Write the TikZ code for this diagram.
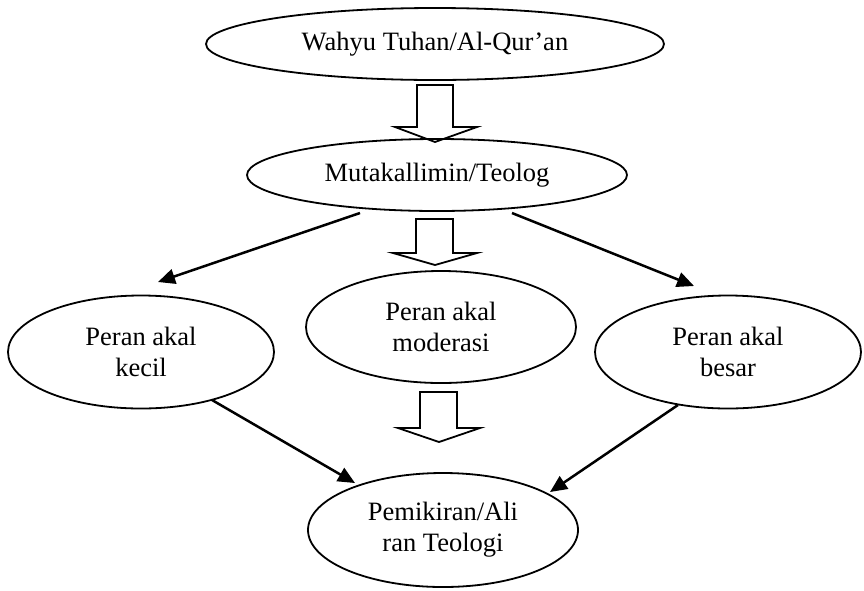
\documentclass[tikz,border=0pt]{standalone}
\usepackage{fontspec}
\setmainfont{Liberation Serif}
\usetikzlibrary{shapes.geometric,arrows.meta}
\begin{document}
\begin{tikzpicture}[x=1pt,y=-1pt,
  oval/.style={draw, ellipse, line width=1.8pt, inner sep=0pt, align=center,
    font=\fontsize{26.5}{31}\selectfont},
  conn/.style={line width=2.5pt, -{Triangle[length=17pt,width=15pt]}},
  blockarr/.style={draw, line width=1.8pt, line join=miter}]
\useasboundingbox (0,0) rectangle (864,590);

% ellipses
\node[oval, minimum width=458pt, minimum height=72pt] (wahyu) at (435,44) {Wahyu Tuhan/Al-Qur’an};
\node[oval, minimum width=380pt, minimum height=72pt] (mut) at (437,175) {Mutakallimin/Teolog};
\node[oval, minimum width=266pt, minimum height=113pt] (kecil) at (141,352) {Peran akal\\kecil};
\node[oval, minimum width=270pt, minimum height=112pt] (mod) at (441,327) {Peran akal\\moderasi};
\node[oval, minimum width=266pt, minimum height=113pt] (besar) at (728,352) {Peran akal\\besar};
\node[oval, minimum width=270pt, minimum height=114pt] (pem) at (443,530) {Pemikiran/Ali\\ran Teologi};

% block arrows
\draw[blockarr] (417,85) -- (453,85) -- (453,127) -- (477,127) -- (435,142) -- (395,127) -- (417,127) -- cycle;
\draw[blockarr] (416,219) -- (453,219) -- (453,253) -- (477,253) -- (435,265) -- (393,253) -- (416,253) -- cycle;
\draw[blockarr] (420,392) -- (457,392) -- (457,428) -- (480,428) -- (439,442) -- (398,428) -- (420,428) -- cycle;

% connector end points
\coordinate (mutL) at (360,213);
\coordinate (kecilT) at (158,282);
\coordinate (mutR) at (512,213);
\coordinate (besarT) at (694,286);
\coordinate (kecilB) at (212,400);
\coordinate (pemL) at (355,483);
\coordinate (besarB) at (678,405);
\coordinate (pemR) at (550,492);

\draw[conn] (mutL) -- (kecilT);
\draw[conn] (mutR) -- (besarT);
\draw[conn] (kecilB) -- (pemL);
\draw[conn] (besarB) -- (pemR);
\end{tikzpicture}
\end{document}
